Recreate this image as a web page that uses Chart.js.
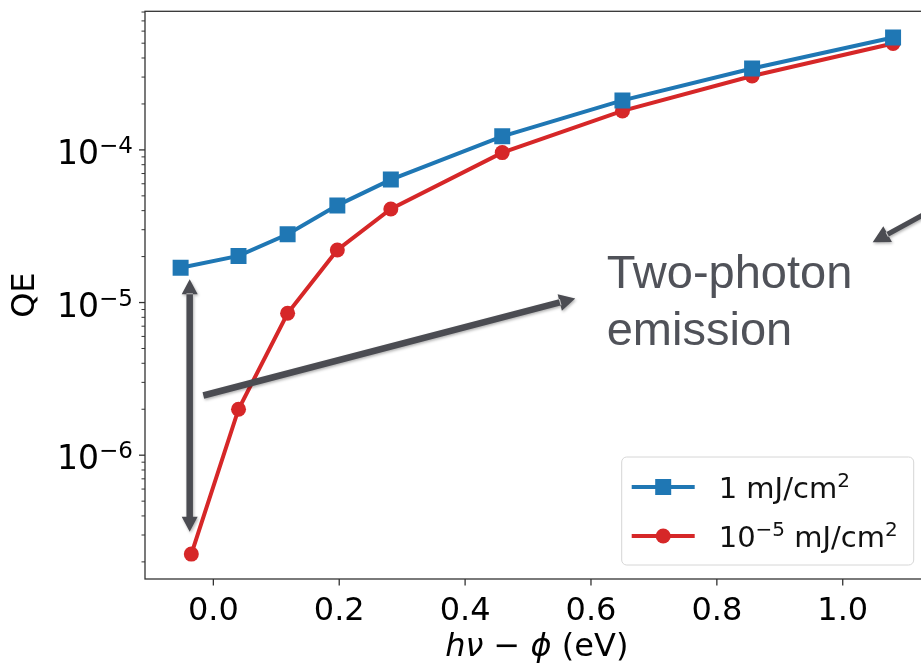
<!DOCTYPE html>
<html lang="en">
<head>
  <meta charset="UTF-8" />
  <title>QE vs photon energy</title>
  <script src="https://cdn.jsdelivr.net/npm/chart.js"></script>
  <style>
    html, body { margin: 0; padding: 0; background: #fff; overflow: hidden; }
    #wrap { position: relative; width: 940px; height: 669px; }
  </style>
</head>
<body>
  <div id="wrap"><canvas id="qeChart"></canvas></div>

  <script>
    // excess photon energy h*nu - phi (eV)
    const xHigh = [-0.052, 0.040, 0.118, 0.197, 0.282, 0.459, 0.650, 0.856, 1.080];
    const xLow  = [-0.035, 0.040, 0.118, 0.197, 0.282, 0.459, 0.650, 0.856, 1.080];
    // quantum efficiency
    const qeHigh = [1.69e-5, 2.02e-5, 2.80e-5, 4.33e-5, 6.39e-5, 1.227e-4, 2.11e-4, 3.41e-4, 5.45e-4];
    const qeLow  = [2.25e-7, 2.0e-6, 8.5e-6, 2.21e-5, 4.10e-5, 9.6e-5, 1.80e-4, 3.05e-4, 4.98e-4];
    const xTicks = [0.0, 0.2, 0.4, 0.6, 0.8, 1.0];
    const yDecades = [-6, -5, -4];

    const BLUE = '#1f77b4', RED = '#d62728', ARROW = '#4b4c52';
    const FONT = '"DejaVu Sans", sans-serif';

    const toPts = (xs, ys) => xs.map((x, i) => ({ x: x, y: ys[i] }));

    // draw "base" followed by a raised smaller part
    function supText(ctx, x, y, parts, align) {
      let w = 0;
      parts.forEach(p => { ctx.font = p.font; w += ctx.measureText(p.t).width; });
      let cx = align === 'right' ? x - w : align === 'center' ? x - w / 2 : x;
      ctx.textAlign = 'left';
      ctx.textBaseline = 'alphabetic';
      parts.forEach(p => {
        ctx.font = p.font;
        ctx.fillText(p.t, cx, y - (p.rise || 0));
        cx += ctx.measureText(p.t).width;
      });
    }

    function arrow(ctx, x1, y1, x2, y2, w, headL, headW, both) {
      const a = Math.atan2(y2 - y1, x2 - x1);
      const len = Math.hypot(x2 - x1, y2 - y1);
      ctx.save();
      ctx.translate(x1, y1);
      ctx.rotate(a);
      ctx.beginPath();
      const s0 = both ? headL - 1 : 0;
      ctx.rect(s0, -w / 2, len - headL + 1 - s0, w);
      ctx.moveTo(len, 0);
      ctx.lineTo(len - headL, -headW / 2);
      ctx.lineTo(len - headL, headW / 2);
      ctx.closePath();
      if (both) {
        ctx.moveTo(0, 0);
        ctx.lineTo(headL, -headW / 2);
        ctx.lineTo(headL, headW / 2);
        ctx.closePath();
      }
      ctx.fill();
      ctx.restore();
    }

    const axesPlugin = {
      id: 'axesPlugin',
      beforeDatasetsDraw(chart) {
        const { ctx, chartArea: a, scales } = chart;
        ctx.save();
        ctx.strokeStyle = '#333';
        ctx.lineWidth = 1.3;
        ctx.strokeRect(a.left, a.top, a.right - a.left, a.bottom - a.top);

        // x ticks
        ctx.fillStyle = '#000';
        xTicks.forEach(v => {
          const px = scales.x.getPixelForValue(v);
          ctx.beginPath();
          ctx.moveTo(px, a.bottom);
          ctx.lineTo(px, a.bottom + 6.5);
          ctx.stroke();
          ctx.font = '32px ' + FONT;
          ctx.textAlign = 'center';
          ctx.textBaseline = 'alphabetic';
          ctx.fillText(v.toFixed(1), px, a.bottom + 41);
        });

        // y ticks, log scale with minor marks
        const ys = scales.y;
        for (let d = -7; d <= -3; d++) {
          for (let m = 1; m <= 9; m++) {
            const v = m * Math.pow(10, d);
            if (v < ys.min || v > ys.max) continue;
            const py = ys.getPixelForValue(v);
            ctx.lineWidth = m === 1 ? 1.3 : 1;
            ctx.beginPath();
            ctx.moveTo(a.left, py);
            ctx.lineTo(a.left - (m === 1 ? 6 : 3.5), py);
            ctx.stroke();
          }
        }
        yDecades.forEach(d => {
          const py = ys.getPixelForValue(Math.pow(10, d));
          supText(ctx, a.left - 12, py + 14, [
            { t: '10', font: '33px ' + FONT },
            { t: '\u2212' + Math.abs(d), font: '23px ' + FONT, rise: 11 }
          ], 'right');
        });

        // axis titles
        const cx = (a.left + a.right) / 2;
        supText(ctx, cx, a.bottom + 77, [
          { t: 'h\u03bd', font: 'italic 32px ' + FONT },
          { t: ' \u2212 ', font: '32px ' + FONT },
          { t: '\u03d5', font: 'italic 32px ' + FONT },
          { t: ' (eV)', font: '32px ' + FONT }
        ], 'center');
        ctx.save();
        ctx.translate(26, (a.top + a.bottom) / 2);
        ctx.rotate(-Math.PI / 2);
        ctx.font = '32px ' + FONT;
        ctx.textAlign = 'center';
        ctx.textBaseline = 'middle';
        ctx.fillText('QE', 0, 0);
        ctx.restore();
        ctx.restore();
      },
      afterDraw(chart) {
        const { ctx, chartArea: a, scales } = chart;
        const X = v => scales.x.getPixelForValue(v);
        const Y = v => scales.y.getPixelForValue(v);

        // legend
        ctx.save();
        const lr = a.right - 15, lb = a.bottom - 14, lw = 292, lh = 108;
        const lx = lr - lw, ly = lb - lh;
        ctx.beginPath();
        ctx.roundRect(lx, ly, lw, lh, 5);
        ctx.fillStyle = 'rgba(255,255,255,0.8)';
        ctx.fill();
        ctx.strokeStyle = '#d6d6d6';
        ctx.lineWidth = 1;
        ctx.stroke();
        const rows = [
          { c: BLUE, y: ly + 30, shape: 'rect',
            parts: [{ t: '1 mJ/cm', font: '29px ' + FONT }, { t: '2', font: '20px ' + FONT, rise: 11 }] },
          { c: RED, y: ly + 79, shape: 'circle',
            parts: [{ t: '10', font: '29px ' + FONT }, { t: '\u22125', font: '20px ' + FONT, rise: 11 },
                    { t: ' mJ/cm', font: '29px ' + FONT }, { t: '2', font: '20px ' + FONT, rise: 11 }] }
        ];
        rows.forEach(r => {
          ctx.strokeStyle = r.c;
          ctx.fillStyle = r.c;
          ctx.lineWidth = 4;
          ctx.beginPath();
          ctx.moveTo(lx + 10, r.y);
          ctx.lineTo(lx + 73, r.y);
          ctx.stroke();
          ctx.beginPath();
          if (r.shape === 'rect') ctx.rect(lx + 41.5 - 8, r.y - 8, 16, 16);
          else ctx.arc(lx + 41.5, r.y, 7.5, 0, Math.PI * 2);
          ctx.fill();
          ctx.fillStyle = '#111';
          supText(ctx, lx + 97, r.y + 11, r.parts, 'left');
        });
        ctx.restore();

        // annotations (placed in data coordinates)
        ctx.save();
        ctx.fillStyle = ARROW;
        ctx.shadowColor = 'rgba(0,0,0,0.3)';
        ctx.shadowBlur = 3;
        ctx.shadowOffsetX = 1;
        ctx.shadowOffsetY = 1.5;
        arrow(ctx, X(-0.0376), Y(3.15e-7), X(-0.0376), Y(1.42e-5), 6.5, 15, 16, true);
        arrow(ctx, X(-0.0159), Y(2.46e-6), X(0.575), Y(1.064e-5), 6.5, 16, 17, false);
        arrow(ctx, X(1.162), Y(4.48e-5), X(1.0476), Y(2.48e-5), 5, 17, 18, false);
        ctx.shadowColor = 'transparent';
        ctx.fillStyle = '#505259';
        ctx.font = '47px "Liberation Sans", Arial, sans-serif';
        ctx.textAlign = 'left';
        ctx.textBaseline = 'alphabetic';
        const tx = X(0.625), ty = Y(1.25e-5);
        ctx.fillText('Two-photon', tx, ty);
        ctx.fillText('emission', tx, ty + 57);
        ctx.restore();
      }
    };

    new Chart(document.getElementById('qeChart'), {
      type: 'scatter',
      data: {
        datasets: [
          {
            label: '1 mJ/cm\u00b2',
            data: toPts(xHigh, qeHigh),
            showLine: true,
            borderColor: BLUE,
            backgroundColor: BLUE,
            borderWidth: 4,
            pointStyle: 'rect',
            pointRadius: 11.3,
            pointBorderWidth: 0,
            pointBackgroundColor: BLUE
          },
          {
            label: '10\u207b\u2075 mJ/cm\u00b2',
            data: toPts(xLow, qeLow),
            showLine: true,
            borderColor: RED,
            backgroundColor: RED,
            borderWidth: 4,
            pointStyle: 'circle',
            pointRadius: 7.5,
            pointBorderWidth: 0,
            pointBackgroundColor: RED
          }
        ]
      },
      options: {
        responsive: true,
        maintainAspectRatio: false,
        animation: false,
        events: [],
        layout: { padding: { top: 6, right: 11, bottom: 0, left: 0 } },
        scales: {
          x: {
            type: 'linear',
            min: -0.1086,
            max: 1.1366,
            grid: { display: false },
            border: { display: false },
            ticks: { display: false },
            afterFit: s => { s.height = 90; }
          },
          y: {
            type: 'logarithmic',
            min: 1.545e-7,
            max: 8.09e-4,
            grid: { display: false },
            border: { display: false },
            ticks: { display: false },
            afterFit: s => { s.width = 145; }
          }
        },
        plugins: {
          legend: { display: false },
          tooltip: { enabled: false }
        }
      },
      plugins: [axesPlugin]
    });
  </script>
</body>
</html>
